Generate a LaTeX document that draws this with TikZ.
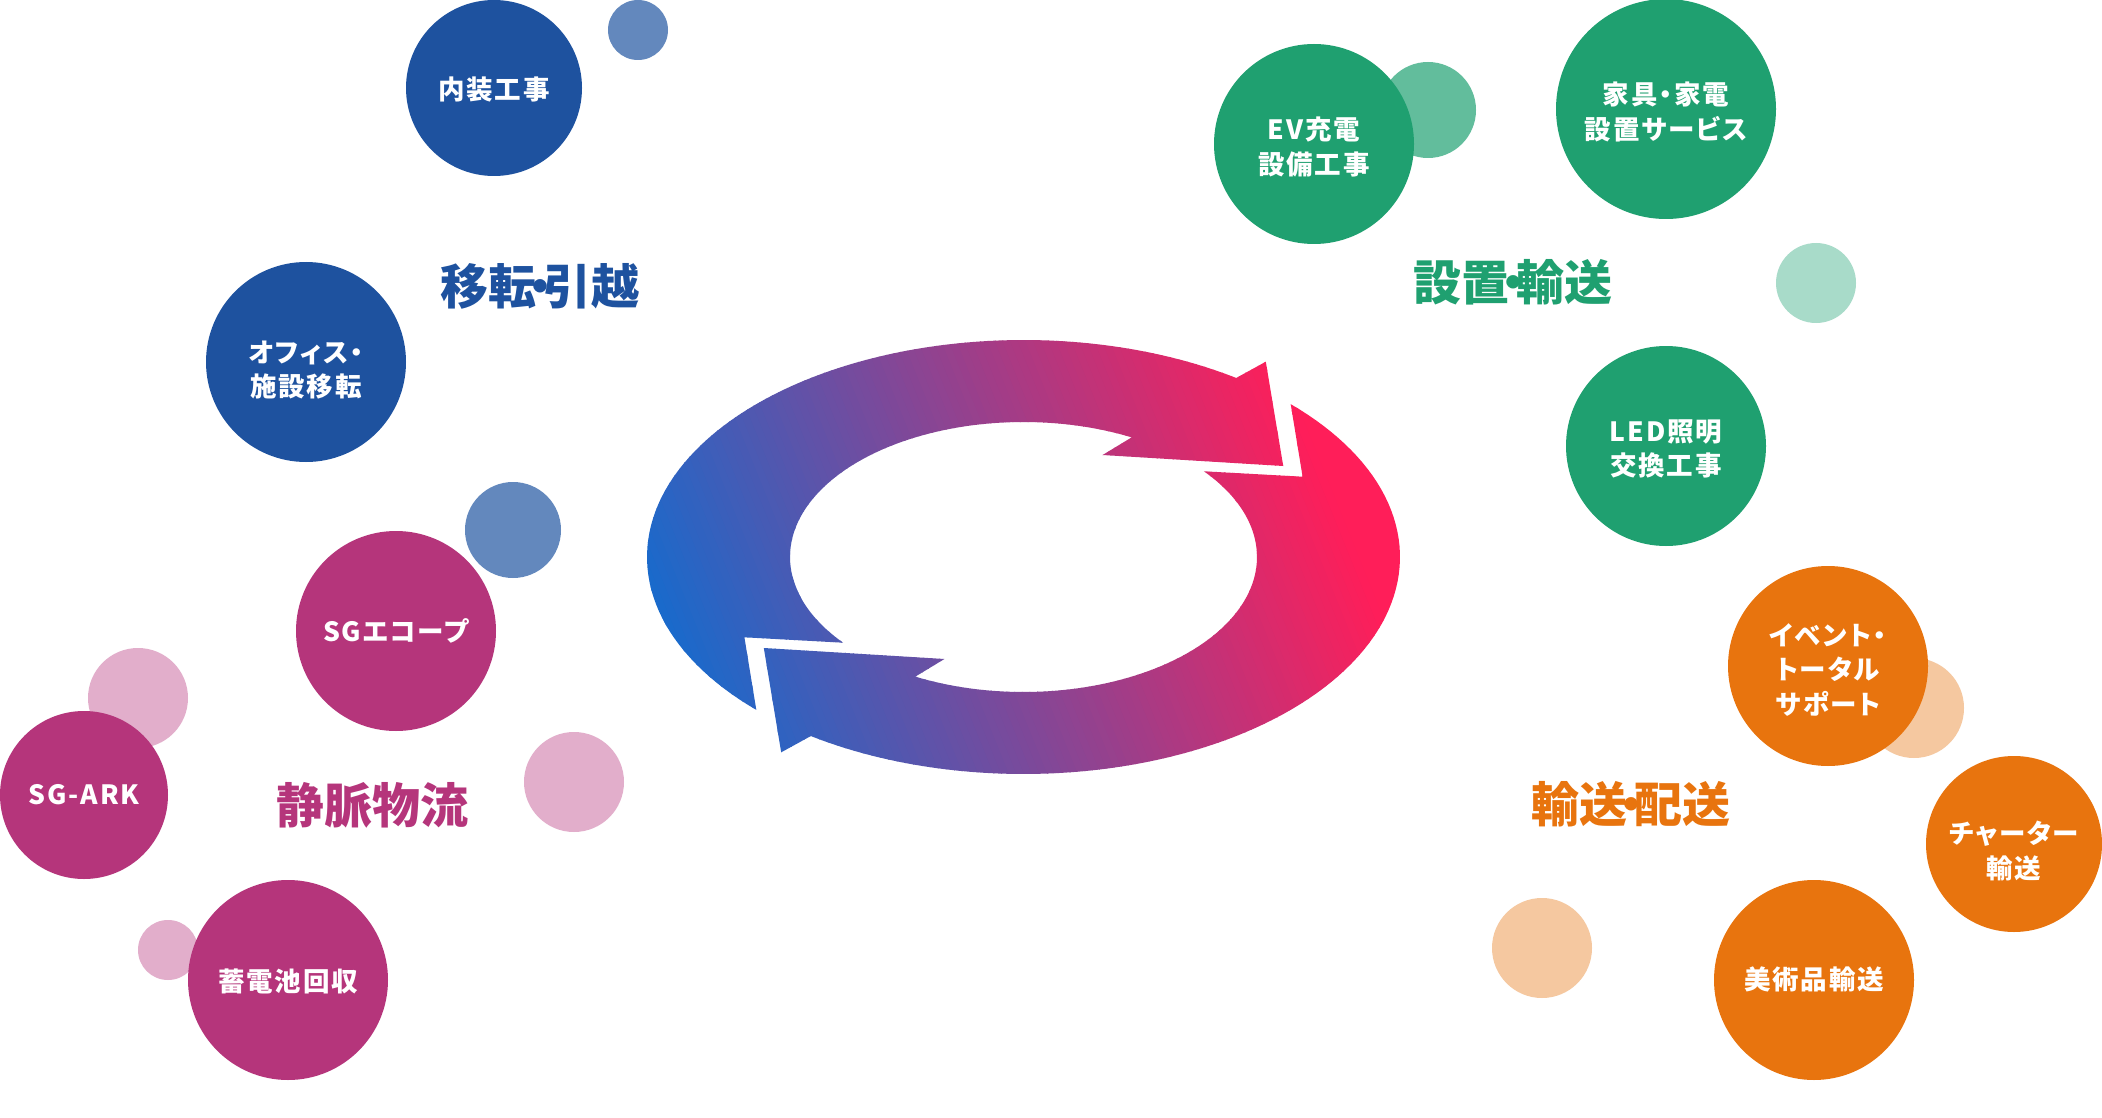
\documentclass[tikz,border=0pt]{standalone}
\usepackage{fontspec}
\setmainfont{Noto Sans CJK JP}
\newfontfamily\jp{Noto Sans CJK JP}[RawFeature=+palt, LetterSpace=7]
\newfontfamily\jptitle{Noto Sans CJK JP}
\definecolor{dblue}{HTML}{1E529F}
\definecolor{lblue}{HTML}{6388BD}
\definecolor{dmag}{HTML}{B5357B}
\definecolor{lpink}{HTML}{E2AECB}
\definecolor{dgreen}{HTML}{1FA070}
\definecolor{mgreen}{HTML}{62BD9C}
\definecolor{lgreen}{HTML}{A8DBC9}
\definecolor{dorange}{HTML}{E8740E}
\definecolor{lorange}{HTML}{F5C8A0}
\definecolor{ringblue}{HTML}{0A6FD3}
\definecolor{ringpink}{HTML}{FF1E59}
\begin{document}
\begin{tikzpicture}[x=1pt,y=-1pt,
  bub/.style={circle, inner sep=0pt, draw=none},
  btxt/.style={inner sep=0pt, text=white, align=center,
    font=\jp\bfseries\fontsize{26.5}{34.5}\selectfont},
  dotc/.style={circle, inner sep=0pt, draw=none},
  ttl/.style={inner sep=0pt, font=\jptitle\bfseries\fontsize{48}{56}\selectfont}]
\useasboundingbox (0,0) rectangle (2102,1118);
\fill[white] (0,0) rectangle (2102,1118);
\coordinate (C) at (1023.5,557);
% ring of two arrows
\begin{scope}
\clip (843.1,642.7) -- (744.4,637.3) -- (756.3,709.9)
  -- plot[domain=135.2:304.4, samples=90] ({1023.5+376.5*cos(\x)},{557+217*sin(\x)})
  -- (1265.8,361.7) -- (1283.2,466) -- (1102.6,455)
  -- plot[domain=297.6:140.6, samples=90] ({1023.5+233.5*cos(\x)},{557+135*sin(\x)}) -- cycle
  (1203.9,471.3) -- (1302.6,476.7) -- (1290.7,404.1)
  -- plot[domain=315.2:484.4, samples=90] ({1023.5+376.5*cos(\x)},{557+217*sin(\x)})
  -- (781.2,752.3) -- (763.8,648) -- (944.4,659)
  -- plot[domain=477.6:320.6, samples=90] ({1023.5+233.5*cos(\x)},{557+135*sin(\x)}) -- cycle;
\begin{scope}[rotate around={22:(C)}]
  \fill[ringblue] (323.5,57) rectangle (624.5,1057);
  \fill[ringpink] (1332.5,57) rectangle (1763.5,1057);
  \foreach \i in {0,...,99} {
    \pgfmathsetmacro{\p}{\i+0.5}
    \fill[ringpink!\p!ringblue] ({623.5+7.1*\i},57) rectangle ({623.5+7.1*\i+7.9},1057);
  }
\end{scope}
\end{scope}
% light circles
\node[dotc, fill=lblue, minimum size=60] (lb1) at (638,30) {};
\node[dotc, fill=lblue, minimum size=96] (lb2) at (513,530) {};
\node[dotc, fill=lpink, minimum size=100] (lp1) at (138,698) {};
\node[dotc, fill=lpink, minimum size=100] (lp2) at (574,782) {};
\node[dotc, fill=lpink, minimum size=60] (lp3) at (168,950) {};
\node[dotc, fill=mgreen, minimum size=96] (lg1) at (1428,110) {};
\node[dotc, fill=lgreen, minimum size=80] (lg2) at (1816,283) {};
\node[dotc, fill=lorange, minimum size=100] (lo1) at (1914,708) {};
\node[dotc, fill=lorange, minimum size=100] (lo2) at (1542,948) {};
% main circles
\node[bub, fill=dblue, minimum size=176] (naiso) at (494,88) {};
\node[bub, fill=dblue, minimum size=200] (office) at (306,362) {};
\node[bub, fill=dmag, minimum size=200] (sgeco) at (396,631) {};
\node[bub, fill=dmag, minimum size=168] (sgark) at (84,795) {};
\node[bub, fill=dmag, minimum size=200] (chikuden) at (288,980) {};
\node[bub, fill=dgreen, minimum size=200] (ev) at (1314,144) {};
\node[bub, fill=dgreen, minimum size=220] (kagu) at (1666,109) {};
\node[bub, fill=dgreen, minimum size=200] (led) at (1666,446) {};
\node[bub, fill=dorange, minimum size=200] (event) at (1828,666) {};
\node[bub, fill=dorange, minimum size=176] (charter) at (2014,844) {};
\node[bub, fill=dorange, minimum size=200] (bijutsu) at (1814,980) {};
% circle texts
\node[btxt] (naisoT) at ([yshift=-1pt]naiso.center) {内装工事};
\node[btxt] (officeT) at ([yshift=-8pt]office.center) {オフィス・\\施設移転};
\node[btxt] (sgecoT) at ([yshift=0pt]sgeco.center) {SGエコープ};
\node[btxt] (sgarkT) at ([yshift=0pt]sgark.center) {SG-ARK};
\node[btxt] (chikudenT) at ([yshift=-1pt]chikuden.center) {蓄電池回収};
\node[btxt] (evT) at ([yshift=-3pt]ev.center) {EV充電\\設備工事};
\node[btxt] (kaguT) at ([yshift=-3pt]kagu.center) {家具・家電\\設置サービス};
\node[btxt] (ledT) at ([yshift=-3pt]led.center) {LED照明\\交換工事};
\node[btxt] (eventT) at ([yshift=-4pt]event.center) {イベント・\\トータル\\サポート};
\node[btxt] (charterT) at ([yshift=-7pt]charter.center) {チャーター\\輸送};
\node[btxt] (bijutsuT) at ([yshift=1pt]bijutsu.center) {美術品輸送};
% titles
\node[ttl, text=dblue] (t1) at (540,286) {移転\kern-0.42em・\kern-0.42em引越};
\node[ttl, text=dmag] (t2) at (372,805) {静脈物流};
\node[ttl, text=dgreen] (t3) at (1513,282) {設置\kern-0.42em・\kern-0.42em輸送};
\node[ttl, text=dorange] (t4) at (1631,804) {輸送\kern-0.42em・\kern-0.42em配送};
\end{tikzpicture}
\end{document}
